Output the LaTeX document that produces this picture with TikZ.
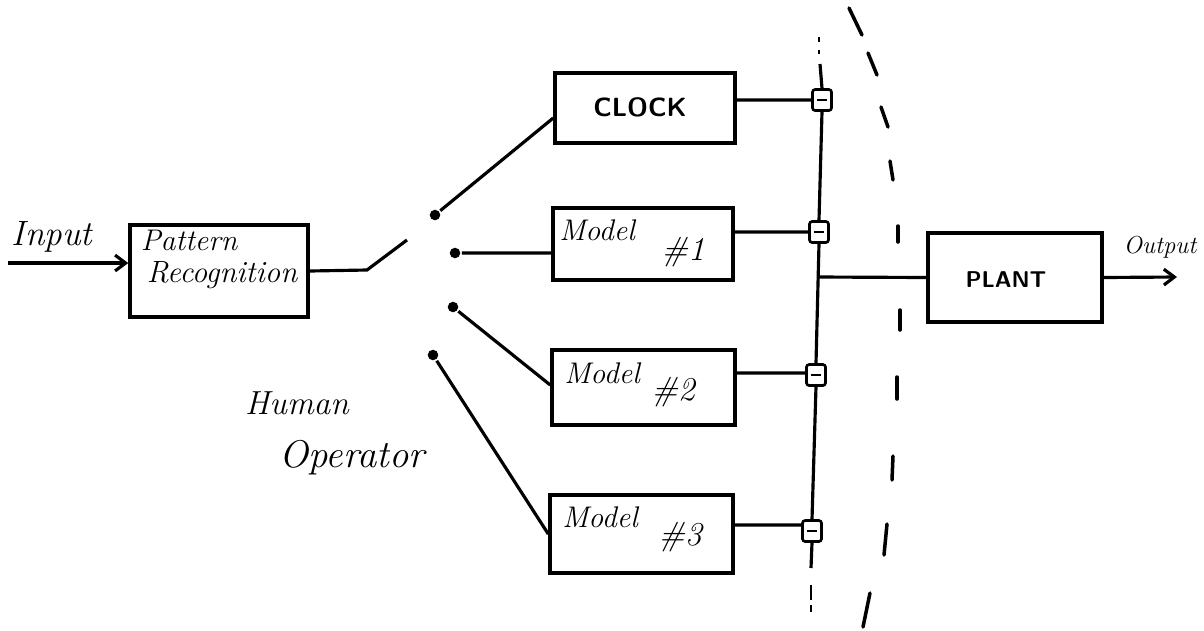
\documentclass[tikz,border=0pt]{standalone}
\usetikzlibrary{arrows.meta}
\begin{document}
\begin{tikzpicture}[x=0.02cm,y=-0.02cm,
  every path/.style={line width=1.8pt},
  blk/.style={draw,line width=2pt,inner sep=0pt},
  jbox/.style={draw,line width=1.5pt,rounded corners=1.5pt,minimum width=0.38cm,minimum height=0.42cm,inner sep=0pt,
    path picture={\draw[line width=1.3pt] ([xshift=2.5pt]path picture bounding box.west) -- ([xshift=-2.5pt]path picture bounding box.east);}},
  hand/.style={font=\fontsize{17}{20}\selectfont\itshape,inner sep=0pt},
  caps/.style={font=\fontsize{15}{18}\selectfont\sffamily\bfseries,inner sep=0pt},
  dot/.style={circle,fill,inner sep=0pt,minimum size=6pt},
  arc/.style={line width=2pt,line cap=round}]
\useasboundingbox (0,0) rectangle (1204,630);

% boxes
\node[blk,minimum width=3.56cm,minimum height=1.84cm] (pr) at (219,271) {};
\node[blk,minimum width=3.6cm,minimum height=1.4cm] (clock) at (645,108) {};
\node[blk,minimum width=3.6cm,minimum height=1.44cm] (m1) at (643,244) {};
\node[blk,minimum width=3.66cm,minimum height=1.5cm] (m2) at (643.5,387.5) {};
\node[blk,minimum width=3.66cm,minimum height=1.56cm] (m3) at (641.5,534) {};
\node[blk,minimum width=3.48cm,minimum height=1.78cm] (plant) at (1015,277.5) {};

% texts
\node[hand,font=\fontsize{20}{24}\selectfont\itshape] (tin) at (52,237) {Input};
\node[hand] (tp1) at (189,240) {Pattern};
\node[hand,font=\fontsize{17.5}{21}\selectfont\itshape] (tp2) at (222,275) {Recognition};
\node[caps] (tclk) at (640,107) {CLOCK};
\node[hand] (tm1) at (597,230) {Model};
\node[hand,font=\fontsize{19}{22}\selectfont\itshape] (tn1) at (683,252) {\#1};
\node[hand] (tm2) at (602,373) {Model};
\node[hand,font=\fontsize{19}{22}\selectfont\itshape] (tn2) at (673,392) {\#2};
\node[hand] (tm3) at (600,517) {Model};
\node[hand,font=\fontsize{19}{22}\selectfont\itshape] (tn3) at (680,537) {\#3};
\node[hand,font=\fontsize{19}{23}\selectfont\itshape] (thum) at (297,403) {Human};
\node[hand,font=\fontsize{22}{26}\selectfont\itshape] (top) at (352,458) {Operator};
\node[caps,font=\fontsize{13}{16}\selectfont\sffamily\bfseries] (tpl) at (1006,280) {PLANT};
\node[hand,font=\fontsize{14}{17}\selectfont\itshape] (tout) at (1160,247) {Output};

% input
\coordinate (inp) at (8,263);
\draw[-{Straight Barb[length=6pt,width=9pt]}] (inp) -- (inp -| pr.west);

% switch
\coordinate (sw0) at (367,270);
\coordinate (sw1) at (407,240);
\draw (pr.east) -- (sw0) -- (sw1);

% contacts
\node[dot] (c0) at (435,215) {};
\node[dot] (c1) at (455,253) {};
\node[dot] (c2) at (453,307) {};
\node[dot] (c3) at (433,355) {};
\draw (c0) -- ([yshift=-0.2cm]clock.west);
\draw (c1) -- ([yshift=-0.18cm]m1.west);
\draw (c2) -- ([yshift=0.05cm]m2.west);
\draw (c3) -- (m3.west);

% junctions
\node[jbox] (j0) at (822,100) {};
\node[jbox] (j1) at (819,232) {};
\node[jbox] (j2) at (816,375) {};
\node[jbox] (j3) at (812,531) {};
\draw ([yshift=0.16cm]clock.east) -- (j0.west);
\draw ([yshift=0.24cm]m1.east) -- (j1.west |- 0,232);
\draw ([yshift=0.29cm]m2.east) -- (j2.west |- 0,373);
\draw ([yshift=0.18cm]m3.east) -- (j3.west |- 0,525);

% bus
\coordinate (btop) at (820,64);
\coordinate (bbot) at (811,568);
\coordinate (bj) at (818,277);
\draw (btop) -- (j0.north);
\draw (j0.south) -- (j1.north);
\draw (j1.south) -- (j2.north);
\draw (j2.south) -- (j3.north);
\draw (j3.south) -- (bbot);
\draw[line width=1.4pt] (819,37) -- (819,42);
\draw[line width=1.4pt] (819,50) -- (819,54);
\draw[line width=1.4pt] (811,585) -- (811,600);
\draw[line width=1.4pt] (811,605) -- (811,612);
\draw (bj) -- (plant.west);

% output
\coordinate (outp) at (1177,277);
\draw[-{Straight Barb[length=6pt,width=9pt]}] (plant.east) -- (outp);

% dashed boundary
\draw[arc] (849,8) -- (862,35);
\draw[arc] (868,53) -- (877,75);
\draw[arc] (881,107) -- (888,127);
\draw[arc] (890,161) -- (893,180);
\draw[arc] (898,226) -- (898,242);
\draw[arc] (900,310) -- (900,330);
\draw[arc] (897,377) -- (897,399);
\draw[arc] (893,456) -- (892,480);
\draw[arc] (887,524) -- (884,555);
\draw[arc] (870,593) -- (863,627);
\end{tikzpicture}
\end{document}
